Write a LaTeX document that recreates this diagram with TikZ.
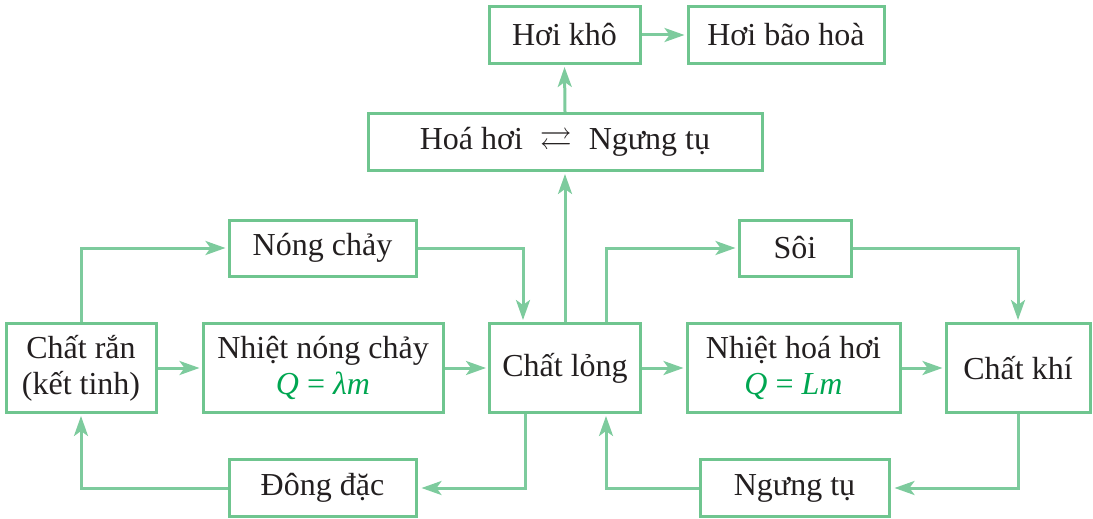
\documentclass[tikz,border=0pt]{standalone}
\usepackage{amssymb}
\usepackage{fontspec}
\setmainfont{Liberation Serif}
\usepackage{xcolor}
\usetikzlibrary{arrows.meta}

\definecolor{boxgreen}{HTML}{6FC58F}
\definecolor{linegreen}{HTML}{7DCB9D}
\definecolor{mathgreen}{HTML}{00A651}
\definecolor{inkblack}{HTML}{231F20}

\tikzset{
  phase/.style={draw=boxgreen, line width=3pt, inner sep=0pt, align=center,
    text=inkblack, font=\fontsize{32}{36}\selectfont},
  conn/.style={draw=linegreen, line width=3pt,
    -{Stealth[length=20pt,width=14pt,inset=5pt]}, shorten >=2pt},
}
\newcommand{\formula}[1]{{\color{mathgreen}#1}}

\begin{document}
\begin{tikzpicture}[x=1pt, y=-1pt]
   \useasboundingbox (0,0) rectangle (1093,519);

   % top rows
   \node[phase, minimum width=151, minimum height=57] (hk) at (564.5,35) {Hơi khô};
   \node[phase, minimum width=196, minimum height=57] (hbh) at (786,35) {Hơi bão hoà};
   \node[phase, minimum width=394, minimum height=57] (hh) at (565,142)
     {Hoá hơi \;$\rightleftarrows$\; Ngưng tụ};

   % transitions above
   \node[phase, minimum width=187, minimum height=56] (nc) at (322.5,248) {Nóng chảy};
   \node[phase, minimum width=112, minimum height=56] (soi) at (795,248) {Sôi};

   % middle row
   \node[phase, minimum width=150, minimum height=89] (rk) at (81,368) {Chất rắn\\(kết tinh)};
   \node[phase, minimum width=240, minimum height=89] (nnc) at (323,368)
     {Nhiệt nóng chảy\\\formula{\itshape Q \upshape= \itshape λm}};
   \node[phase, minimum width=151, minimum height=89] (lo) at (565,368) {Chất lỏng};
   \node[phase, minimum width=213, minimum height=89] (nhh) at (793.5,368)
     {Nhiệt hoá hơi\\\formula{\itshape Q \upshape= \itshape Lm}};
   \node[phase, minimum width=144, minimum height=89] (khi) at (1018,368) {Chất khí};

   % transitions below
   \node[phase, minimum width=187, minimum height=57] (dd) at (322.5,488) {Đông đặc};
   \node[phase, minimum width=189, minimum height=57] (ngt) at (794.5,488) {Ngưng tụ};

   % straight arrows
   \foreach \a/\b in {rk.east/nnc.west, nnc.east/lo.west, lo.east/nhh.west,
                      nhh.east/khi.west, lo.north/hh.south, hh.north/hk.south,
                      hk.east/hbh.west}
   \draw[conn] (\a) -- (\b);

   % bent arrows
   \draw[conn] (rk.north) |- (nc.west);
   \draw[conn] (nc.east) -| ([xshift=-42pt]lo.north);
   \draw[conn] ([xshift=41pt]lo.north) |- (soi.west);
   \draw[conn] (soi.east) -| (khi.north);
   \draw[conn, shorten >=4pt] (khi.south) |- (ngt.east);
   \draw[conn] (ngt.west) -| ([xshift=41pt]lo.south);
   \draw[conn, shorten >=4pt] ([xshift=-40pt]lo.south) |- (dd.east);
   \draw[conn] (dd.west) -| (rk.south);
\end{tikzpicture}
\end{document}
